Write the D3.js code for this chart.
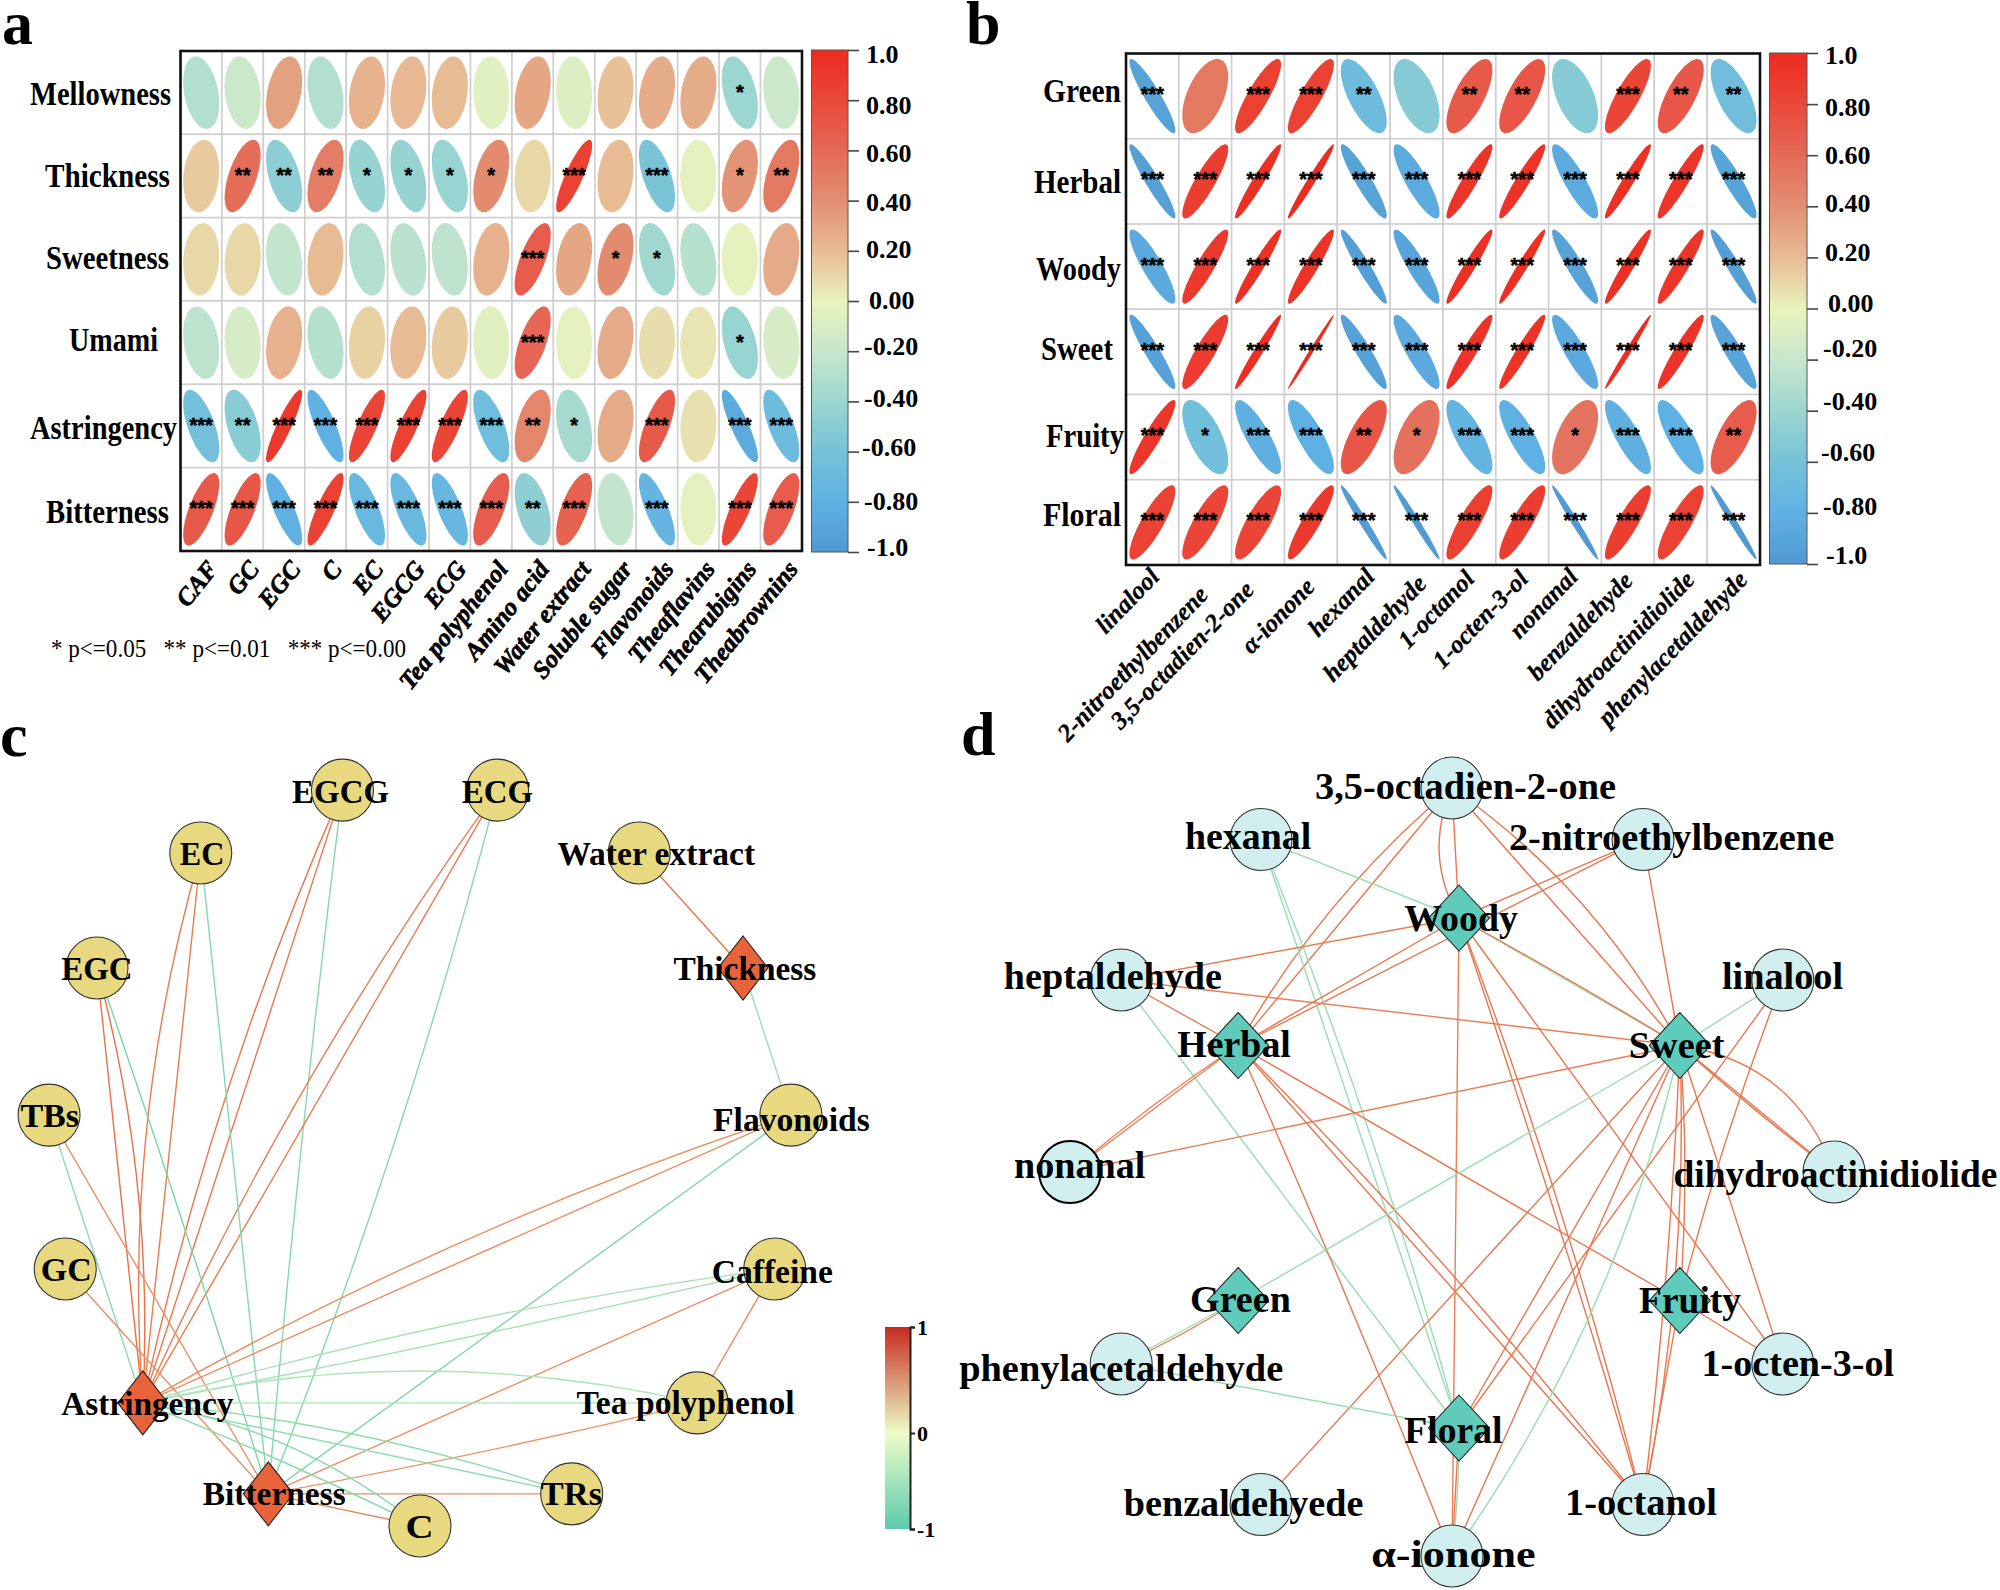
<!DOCTYPE html>
<html><head><meta charset="utf-8">
<script src="https://cdn.jsdelivr.net/npm/d3@7"></script>
<style>html,body{margin:0;background:#fff}svg{display:block}text{font-family:"Liberation Serif",serif;font-weight:bold;fill:#000}</style>
</head><body><svg id="c" width="2000" height="1590"></svg>
<script>
// ---------- DATA ----------
const tasteRows = ["Mellowness","Thickness","Sweetness","Umami","Astringency","Bitterness"];
const chemCols = ["CAF","GC","EGC","C","EC","EGCG","ECG","Tea polyphenol","Amino acid","Water extract","Soluble sugar","Flavonoids","Theaflavins","Thearubigins","Theabrownins"];
const corrA = [
 [-0.30,-0.18,0.32,-0.30,0.24,0.22,0.20,-0.05,0.30,-0.08,0.18,0.27,0.27,-0.40,-0.18],
 [0.15,0.58,-0.48,0.50,-0.43,-0.43,-0.42,0.42,0.10,0.85,0.20,-0.58,-0.03,0.38,0.52],
 [0.10,0.10,-0.22,0.20,-0.30,-0.27,-0.25,0.25,0.68,0.30,0.42,-0.38,-0.28,-0.02,0.28],
 [-0.25,-0.12,0.25,-0.28,0.12,0.20,0.15,-0.05,0.63,-0.03,0.28,0.08,0.05,-0.42,-0.12],
 [-0.62,-0.50,0.90,-0.80,0.82,0.85,0.82,-0.65,0.45,-0.35,0.28,0.70,0.07,-0.85,-0.68],
 [0.70,0.72,-0.80,0.85,-0.72,-0.72,-0.73,0.68,-0.47,0.65,-0.22,-0.75,-0.03,0.82,0.68]];
const starsA = [
 [0,0,0,0,0,0,0,0,0,0,0,0,0,1,0],
 [0,2,2,2,1,1,1,1,0,3,0,3,0,1,2],
 [0,0,0,0,0,0,0,0,3,0,1,1,0,0,0],
 [0,0,0,0,0,0,0,0,3,0,0,0,0,1,0],
 [3,2,3,3,3,3,3,3,2,1,0,3,0,3,3],
 [3,3,3,3,3,3,3,3,2,3,0,3,0,3,3]];
const aromaRows = ["Green","Herbal","Woody","Sweet","Fruity","Floral"];
const volCols = ["linalool","2-nitroethylbenzene","3,5-octadien-2-one","α-ionone","hexanal","heptaldehyde","1-octanol","1-octen-3-ol","nonanal","benzaldehyde","dihydroactinidiolide","phenylacetaldehyde"];
const corrB = [
 [-0.92,0.52,0.85,0.85,-0.68,-0.52,0.70,0.72,-0.52,0.82,0.72,-0.65],
 [-0.94,0.87,0.96,0.98,-0.92,-0.85,0.93,0.94,-0.86,0.96,0.93,-0.91],
 [-0.87,0.90,0.96,0.94,-0.95,-0.90,0.96,0.97,-0.92,0.96,0.93,-0.95],
 [-0.93,0.88,0.975,0.995,-0.93,-0.87,0.94,0.95,-0.87,0.99,0.94,-0.91],
 [0.92,-0.64,-0.82,-0.80,0.72,0.56,-0.76,-0.80,0.55,-0.82,-0.80,0.68],
 [0.84,0.82,0.82,0.90,-0.98,-0.985,0.86,0.87,-0.985,0.87,0.85,-0.985]];
const starsB = [
 [3,0,3,3,2,0,2,2,0,3,2,2],
 [3,3,3,3,3,3,3,3,3,3,3,3],
 [3,3,3,3,3,3,3,3,3,3,3,3],
 [3,3,3,3,3,3,3,3,3,3,3,3],
 [3,1,3,3,2,1,3,3,1,3,3,2],
 [3,3,3,3,3,3,3,3,3,3,3,3]];
const corrTicks = [1,0.8,0.6,0.4,0.2,0,-0.2,-0.4,-0.6,-0.8,-1];
const corrTickText = ["1.0","0.80","0.60","0.40","0.20","0.00","-0.20","-0.40","-0.60","-0.80","-1.0"];
const corrStops = [-1,-0.8,-0.6,-0.4,-0.2,0,0.2,0.4,0.6,0.8,1];
const corrColors = ["#5199D1","#60B1E3","#76C2D9","#9CD6D0","#C8E7CD","#E9F3BB","#E7BC95","#E28F72","#E56A58","#E9483A","#EE2A1F"];
const netTicks = [1,0,-1];
const netTickText = ["1","0","-1"];
const netStops = [-1,0,1];
const netColors = ["#5CCBAD","#EEFBC8","#C62C20"];
const edgeColors = ["#5CCBA0","#EEFBC8","#E85F38"];
const footnote = "* p<=0.05   ** p<=0.01   *** p<=0.00";

// network c: nodes clockwise from the top of a ring
const ringC = ["ECG","Water extract","Thickness","Flavonoids","Caffeine","Tea polyphenol","TRs","C","Bitterness","Astringency","GC","TBs","EGC","EC","EGCG"];
const hubsC = ["Thickness","Bitterness","Astringency"];
const labelC = ["EGCG","ECG","EC","Water extract","EGC","Thickness","TBs","Flavonoids","GC","Caffeine","Astringency","Tea polyphenol","Bitterness","TRs","C"];
// [source, target, correlation, bend]
const edgesC = [
 ["Water extract","Thickness",0.85,0],["Thickness","Flavonoids",-0.58,0],
 ["EGCG","Astringency",0.85,0],["EGCG","Astringency",0.85,-0.05],["EGCG","Bitterness",-0.72,-0.01],
 ["ECG","Astringency",0.82,0],["ECG","Astringency",0.82,-0.05],["ECG","Bitterness",-0.73,0.03],
 ["EC","Astringency",0.82,0],["EC","Astringency",0.82,-0.09],["EC","Bitterness",-0.72,0],
 ["EGC","Astringency",0.90,0],["EGC","Astringency",0.90,0.08],["EGC","Bitterness",-0.80,0.01],
 ["TBs","Astringency",-0.68,0],["TBs","Bitterness",0.68,0],["GC","Bitterness",0.72,0],
 ["Flavonoids","Astringency",0.70,0],["Flavonoids","Astringency",0.70,-0.05],["Flavonoids","Bitterness",-0.75,0],
 ["Caffeine","Astringency",-0.50,0.01],["Caffeine","Astringency",-0.50,-0.04],["Caffeine","Bitterness",0.70,0],["Caffeine","Tea polyphenol",0.68,0],
 ["Tea polyphenol","Astringency",-0.45,0],["Tea polyphenol","Astringency",-0.45,-0.115],["Tea polyphenol","Bitterness",0.68,0.015],
 ["Astringency","TRs",-0.65,0],["Astringency","TRs",-0.65,0.06],["TRs","Bitterness",0.70,0],
 ["Astringency","C",-0.70,0.02],["Astringency","C",-0.70,0.13],["C","Bitterness",0.75,0]];

// network d: outer ring and inner hexagon, clockwise from the top
const ringD = ["3,5-octadien-2-one","2-nitroethylbenzene","linalool","dihydroactinidiolide","1-octen-3-ol","1-octanol","α-ionone","benzaldehyede","phenylacetaldehyde","nonanal","heptaldehyde","hexanal"];
const hubsD = ["Woody","Sweet","Fruity","Floral","Green","Herbal"];
const labelD = ["3,5-octadien-2-one","hexanal","2-nitroethylbenzene","Woody","heptaldehyde","linalool","Herbal","Sweet","nonanal","dihydroactinidiolide","Green","Fruity","phenylacetaldehyde","1-octen-3-ol","Floral","benzaldehyede","1-octanol","α-ionone"];
const edgesD = [
 ["3,5-octadien-2-one","Herbal",0.85,0.0],["3,5-octadien-2-one","Herbal",0.85,-0.09],
 ["3,5-octadien-2-one","Woody",0.85,0],["3,5-octadien-2-one","Woody",0.85,-0.25],
 ["3,5-octadien-2-one","Sweet",0.85,0],["3,5-octadien-2-one","Sweet",0.85,0.12],
 ["2-nitroethylbenzene","Woody",0.85,0],["2-nitroethylbenzene","Herbal",0.85,0],["2-nitroethylbenzene","Sweet",0.85,0],
 ["hexanal","Woody",-0.6,0],["hexanal","Floral",-0.6,0],["hexanal","Floral",-0.6,0.03],
 ["heptaldehyde","Woody",0.8,0],["heptaldehyde","Sweet",0.8,0],["heptaldehyde","Herbal",0.8,0],["heptaldehyde","Floral",-0.6,0],
 ["linalool","Sweet",-0.6,0],["linalool","Fruity",0.85,-0.03],["linalool","Floral",0.85,0],
 ["dihydroactinidiolide","Sweet",0.85,0],["dihydroactinidiolide","Sweet",0.85,0.02],["dihydroactinidiolide","Sweet",0.85,-0.3],
 ["nonanal","Herbal",0.8,0],["nonanal","Herbal",0.8,0.03],["nonanal","Sweet",0.8,0],
 ["benzaldehyede","Sweet",0.85,0],
 ["Woody","α-ionone",0.8,0],["Woody","Sweet",-0.6,0],["Woody","Sweet",0.85,0.01],["Woody","Herbal",0.85,0],
 ["Woody","1-octanol",0.85,0.03],["Woody","1-octanol",0.85,0.01],["Woody","1-octen-3-ol",0.85,0],
 ["Herbal","α-ionone",0.85,0.01],["Herbal","1-octanol",0.85,0],["Herbal","1-octanol",0.85,0.03],["Herbal","Fruity",0.85,0],
 ["Sweet","Floral",0.85,0],["Sweet","α-ionone",0.85,0],["Sweet","α-ionone",-0.6,0.1],["Sweet","Green",-0.6,0],
 ["Sweet","1-octanol",0.85,0.06],["Sweet","1-octanol",0.85,0.02],["Sweet","1-octen-3-ol",0.85,0],["Sweet","Fruity",0.85,0.04],
 ["Green","phenylacetaldehyde",-0.6,0],["Green","phenylacetaldehyde",0.8,0.04],["phenylacetaldehyde","Floral",-0.6,0],
 ["Floral","α-ionone",0.85,0],["Floral","α-ionone",-0.6,0.03],["Fruity","1-octen-3-ol",0.85,0],["Fruity","1-octanol",0.85,0]];

// ---------- LAYOUT (not data) ----------
const K = 2000/1568;
const boxA = {l:180.5,t:51,r:802,b:551}, boxB = {l:1126,t:53.5,r:1760,b:565};
const barA = {l:811.5,r:848,t:50,b:552,tick:11}, barB = {l:1769.5,r:1807,t:53,b:564,tick:11};
const rowBoxA = [[30,171,94],[45,170,176],[46,169,258],[69,158,340],[30,177,428],[46,169,512]];
const rowBoxB = [[1043,1121,91],[1034,1121,182],[1036,1121,269],[1041,1113,349],[1046,1124,436],[1043,1121,515]];
const tickOffA = [[18,4],[18,5],[18,3],[18,1],[18,-2],[21,-1],[16,-5],[16,-3],[14,-5],[16,-1],[19,-5]];
const tickOffB = [[18,2],[18,3],[18,0],[18,-3],[18,-5],[21,-6],[16,-12],[16,-10],[14,-10],[16,-7],[19,-9]];
const xNudgeA = chemCols.map(()=>[0,0]);
const xNudgeB = [[-8,-6],[-12,12],[-19,7],[-11,4],[-4,-6],[-5,1],[-10,-4],[-9,-4],[-12,-6],[-10,-2],[-1,-3],[-1,-3]];
// label boxes [left, right, centre y] in the 1568-wide frame
const lblBoxC = [[229,305,621],[362,418,621],[141,176,670],[437,592,670],[48,104,760],[528,640,760],[16,62,875],[559,682,878],[32,72,996],[558,653,997],[48,183,1101],[452,623,1100],[159,271,1171],[424,472,1171],[318,340,1197]];
const lblBoxD = [[1031,1267,617],[929,1028,656],[1183,1438,657],[1101,1190,720],[787,958,766],[1350,1445,766],[923,1012,819],[1277,1352,820],[795,898,914],[1312,1566,921],[933,1012,1019],[1285,1365,1020],[752,1006,1073],[1334,1485,1069],[1101,1178,1122],[881,1069,1179],[1227,1346,1178],[1075,1204,1219]];

const svg = d3.select("#c");
const corrColor = d3.scaleLinear().domain(corrStops).range(corrColors);
const netColor = d3.scaleLinear().domain(netStops).range(netColors);
const edgeColor = d3.scaleLinear().domain(netStops).range(edgeColors);
const defs = svg.append("defs");

function grad(id, stops, color, offsetOf){
  const g = defs.append("linearGradient").attr("id",id).attr("x1",0).attr("y1",1).attr("x2",0).attr("y2",0);
  stops.forEach(v=>g.append("stop").attr("offset",offsetOf(v)).attr("stop-color",color(v)));
}
grad("gCorr",corrStops,corrColor,v=>(v+1)/2);

function fitText(g,str,l,r,cy,size,sy){
  return g.append("text").attr("transform",`translate(${l},${cy}) scale(1,${sy||1})`).attr("dy","0.33em")
   .attr("font-size",size).attr("textLength",r-l).attr("lengthAdjust","spacingAndGlyphs").text(str);
}

function ellipsePts(rho){
  const d = Math.acos(rho);
  return d3.range(0,2*Math.PI+0.001,Math.PI/40).map(k=>[Math.cos(k+d/2)/2,Math.cos(k-d/2)/2]);
}

function corrplot(box,rows,cols,vals,stars,bar,offs,rowBoxes,xOpts){
  const g = svg.append("g");
  const x = d3.scaleBand().domain(cols).range([box.l,box.r]);
  const y = d3.scaleBand().domain(rows).range([box.t,box.b]);
  const ex = d3.scaleLinear().domain([-0.5,0.5]).range([-0.435*x.bandwidth(),0.435*x.bandwidth()]);
  const ey = d3.scaleLinear().domain([-0.5,0.5]).range([0.435*y.bandwidth(),-0.435*y.bandwidth()]);
  const line = d3.line().x(p=>ex(p[0])).y(p=>ey(p[1])).curve(d3.curveLinearClosed);
  rows.forEach(r=>cols.forEach(c=>{
    g.append("rect").attr("x",x(c)).attr("y",y(r)).attr("width",x.bandwidth()).attr("height",y.bandwidth())
      .attr("fill","#fff").attr("stroke","#cfcfcf").attr("stroke-width",1.6);
  }));
  rows.forEach((r,i)=>cols.forEach((c,j)=>{
    const cx=x(c)+x.bandwidth()/2, cy=y(r)+y.bandwidth()/2;
    g.append("path").attr("transform",`translate(${cx},${cy})`).attr("d",line(ellipsePts(vals[i][j]))).attr("fill",corrColor(vals[i][j]));
    if(stars[i][j]) g.append("text").attr("x",cx).attr("y",cy+xOpts.starDy).attr("text-anchor","middle")
      .style("font-family","'Liberation Sans'").attr("font-size",20).attr("stroke","#000").attr("stroke-width",0.5).text("*".repeat(stars[i][j]));
  }));
  g.append("rect").attr("x",box.l).attr("y",box.t).attr("width",box.r-box.l).attr("height",box.b-box.t)
    .attr("fill","none").attr("stroke","#111").attr("stroke-width",2.6);
  rows.forEach((r,i)=>fitText(g,r,rowBoxes[i][0],rowBoxes[i][1],rowBoxes[i][2],30,1.1));
  cols.forEach((c,j)=>{
    const px=x(c)+x.bandwidth()/2+xOpts.dx+xOpts.nudge[j][0], py=xOpts.y+xOpts.nudge[j][1];
    g.append("text").attr("transform",`translate(${px},${py}) rotate(${xOpts.rot})`)
      .attr("text-anchor","end").attr("dy","0.35em").attr("font-style","italic").attr("font-size",xOpts.size)
      .attr("stroke","#000").attr("stroke-width",xOpts.heavy).text(c);
  });
  // colour bar
  const s = d3.scaleLinear().domain([-1,1]).range([bar.b,bar.t]);
  g.append("rect").attr("x",bar.l).attr("y",bar.t).attr("width",bar.r-bar.l).attr("height",bar.b-bar.t)
    .attr("fill","url(#gCorr)").attr("stroke","#555").attr("stroke-width",1);
  const ax = g.append("g").attr("transform",`translate(${bar.r},0)`)
    .call(d3.axisRight(s).tickValues(corrTicks).tickSize(bar.tick).tickFormat((d,i)=>corrTickText[i]));
  ax.select(".domain").remove();
  ax.selectAll("line").attr("stroke","#444").attr("stroke-width",1.6);
  ax.selectAll("text").attr("font-size",26).attr("x",(d,i)=>offs[i][0]).attr("dy",(d,i)=>offs[i][1]+8.5);
}

corrplot(boxA,tasteRows,chemCols,corrA,starsA,barA,tickOffA,rowBoxA,{dx:11,y:564,rot:-51,size:25,nudge:xNudgeA,starDy:6,heavy:0.7});
corrplot(boxB,aromaRows,volCols,corrB,starsB,barB,tickOffB,rowBoxB,{dx:10,y:578,rot:-46,size:25,nudge:xNudgeB,starDy:5,heavy:0.3});

svg.append("text").attr("x",51).attr("y",657).attr("font-size",25).style("font-weight","normal")
  .attr("textLength",355).attr("lengthAdjust","spacingAndGlyphs").attr("xml:space","preserve").text(footnote);

[["a",2,44],["b",966,44],["c",0,756],["d",961,755]].forEach(p=>
  svg.append("text").attr("x",p[1]).attr("y",p[2]).attr("font-size",62).text(p[0]));

// networks
function network(ring,hubs,edges,labels,boxes,opt){
  const g = svg.append("g"), pos = {};
  const px = d3.scaleLinear().domain([-1,1]).range([opt.cx-opt.rx,opt.cx+opt.rx]);
  const py = d3.scaleLinear().domain([-1,1]).range([opt.cy+opt.ry,opt.cy-opt.ry]);
  ring.forEach((n,i)=>{const a=(opt.start+i*360/ring.length)*Math.PI/180;pos[n]=[px(Math.sin(a)),py(Math.cos(a))];});
  if(opt.inner){
    const ix = d3.scaleLinear().domain([-1,1]).range([opt.inner.cx-opt.inner.r,opt.inner.cx+opt.inner.r]);
    const iy = d3.scaleLinear().domain([-1,1]).range([opt.inner.cy+opt.inner.r,opt.inner.cy-opt.inner.r]);
    hubs.forEach((n,i)=>{const a=i*60*Math.PI/180;pos[n]=[ix(Math.sin(a)),iy(Math.cos(a))];});
  }
  edges.forEach(e=>{
    const [a,b]=[pos[e[0]],pos[e[1]]], dx=b[0]-a[0], dy=b[1]-a[1];
    const mx=(a[0]+b[0])/2+e[3]*dy, my=(a[1]+b[1])/2-e[3]*dx;
    const p=d3.path(); p.moveTo(a[0],a[1]); p.quadraticCurveTo(mx,my,b[0],b[1]);
    g.append("path").attr("d",p.toString()).attr("fill","none").attr("stroke",edgeColor(e[2])).attr("stroke-width",1.4);
  });
  ring.filter(n=>!hubs.includes(n)).forEach(n=>{
    g.append("circle").attr("cx",pos[n][0]).attr("cy",pos[n][1]).attr("r",opt.r).attr("fill",opt.nodeFill)
      .attr("stroke",n==="nonanal"?"#000":"#333").attr("stroke-width",n==="nonanal"?2:1.1);
  });
  hubs.forEach(n=>{
    const [x,y]=pos[n];
    g.append("path").attr("d",`M${x},${y-opt.dh}L${x+opt.dw},${y}L${x},${y+opt.dh}L${x-opt.dw},${y}Z`).attr("fill",opt.hubFill).attr("stroke","#222").attr("stroke-width",1.1);
  });
  labels.forEach((n,i)=>fitText(g,n,boxes[i][0]*K,boxes[i][1]*K,boxes[i][2]*K,opt.font));
}
network(ringC,hubsC,edgesC,labelC,lblBoxC,{cx:420,cy:1154,rx:373,ry:372,start:12,r:31,dw:25,dh:32,nodeFill:"#E8D87F",hubFill:"#E8623A",font:33});
network(ringD,hubsD,edgesD,labelD,lblBoxD,{cx:1452,cy:1172,rx:382,ry:384,start:0,inner:{cx:1459,cy:1173,r:255},r:31,dw:30.5,dh:33,nodeFill:"#D0EFEE",hubFill:"#5FCBBB",font:37});

// network colour bar
const ns = d3.scaleLinear().domain([-1,0,1]).range([1529,1433,1327]);
grad("gNet",netStops,netColor,v=>(1529-ns(v))/202);
svg.append("rect").attr("x",885).attr("y",1327).attr("width",25).attr("height",202).attr("fill","url(#gNet)");
const nax = svg.append("g").attr("transform","translate(910,0)").call(d3.axisRight(ns).tickValues(netTicks).tickSize(5).tickFormat((d,i)=>netTickText[i]));
nax.select(".domain").attr("stroke","#222").attr("stroke-width",2);
nax.selectAll("line").attr("stroke","#222").attr("stroke-width",2);
nax.selectAll("text").attr("font-size",22).attr("x",7);
</script>
</body></html>
